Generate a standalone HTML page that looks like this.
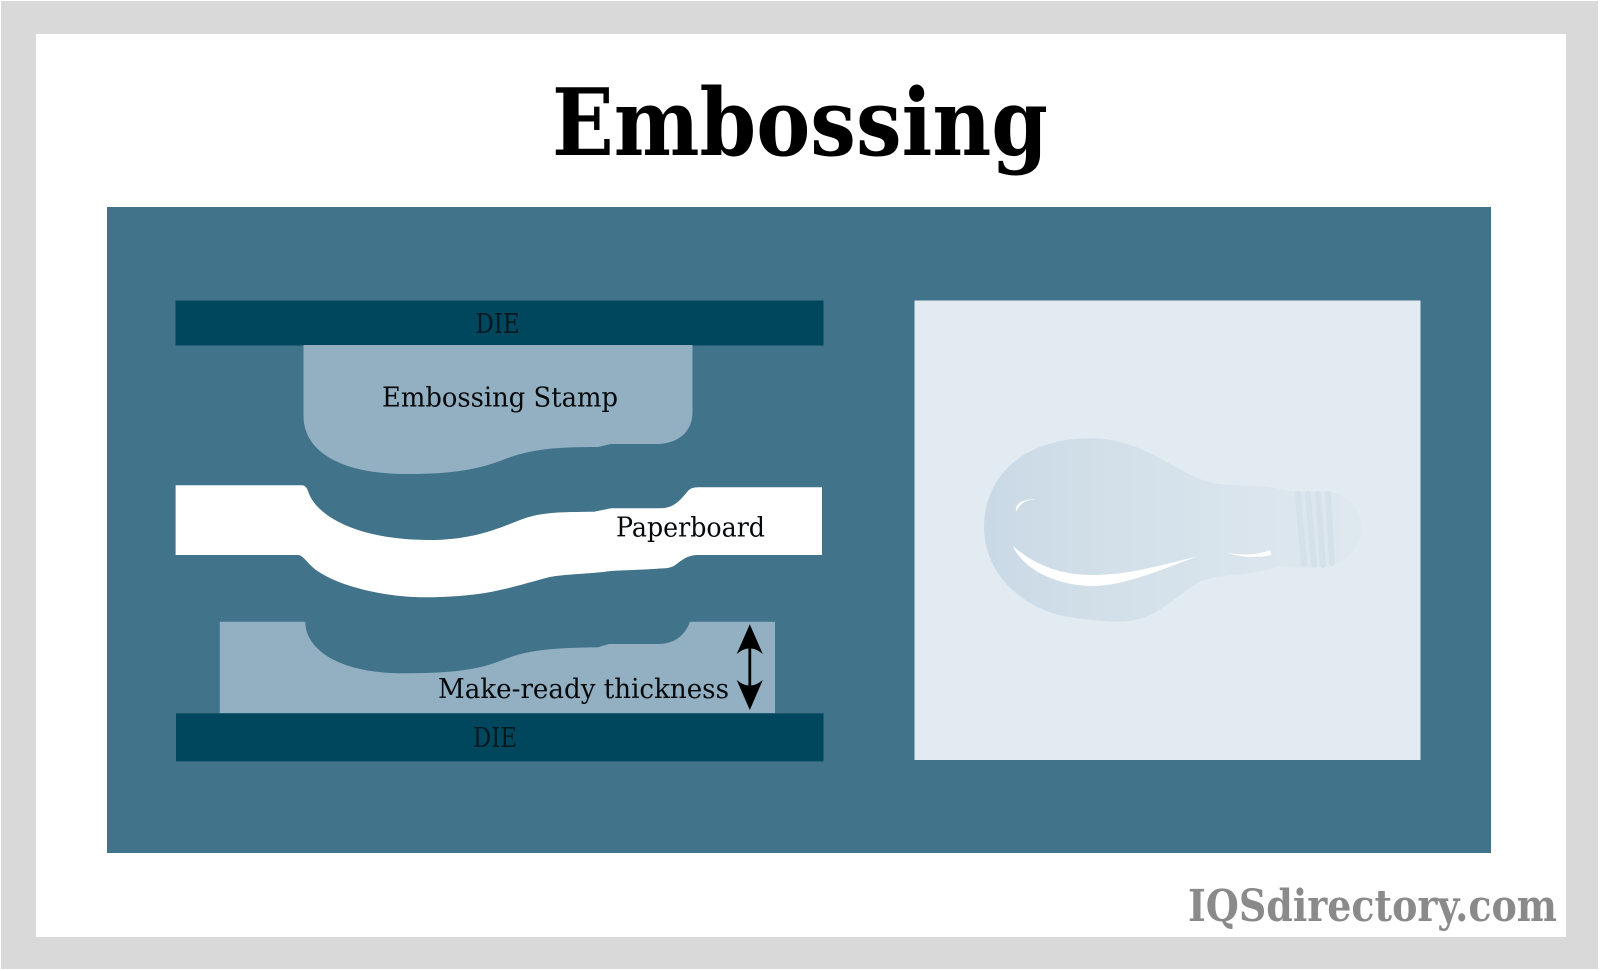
<!DOCTYPE html>
<html>
<head>
<meta charset="utf-8">
<title>Embossing</title>
<style>
html,body{margin:0;padding:0;background:#fff;width:1600px;height:971px;overflow:hidden}
svg{display:block}
text{font-family:"DejaVu Serif","Liberation Serif",serif}
</style>
</head>
<body>
<svg width="1600" height="971" viewBox="0 0 1600 971" xmlns="http://www.w3.org/2000/svg">
<defs>
<linearGradient id="b" x1="984" x2="1361" y1="0" y2="0" gradientUnits="userSpaceOnUse">
<stop offset="0" stop-color="#c9d9e5"/>
<stop offset="0.35" stop-color="#d3e0e9"/>
<stop offset="0.65" stop-color="#d9e4ec"/>
<stop offset="1" stop-color="#dfe8ef"/>
</linearGradient>
</defs>
<rect width="1600" height="971" fill="#fff"/>
<rect x="1" y="1" width="1597" height="968" fill="#d9d9d9"/>
<rect x="36" y="34" width="1530" height="903" fill="#fff"/>
<text x="552" y="155" font-size="93" font-weight="700" fill="#000" textLength="496" lengthAdjust="spacingAndGlyphs">Embossing</text>
<rect x="107" y="207" width="1384" height="646" fill="#41738a"/>

<rect x="175.5" y="300.5" width="648" height="45" fill="#00475e"/>
<path d="M303.5 345V416C303.5 448 335 474 407 474C455 474 480 469 505 459C530 450 550 447 598 447L611 444H656C678 444 692.5 432 692.5 412V345Z" fill="#92b0c2"/>
<path d="M175.6 485.3H302Q306 485.3 308 491C316 517 360 540 429 540C470 540 495 530 520 520C540 512 560 512 594 511.7L611 508.3H660C675 508 680 500 688 491Q691 487.3 698 487.3H822V555H698C688 555 682 560 678 563C672 568 668 568.3 660 568.5C640 570 625 570 611 571C590 574 565 574 550 577C530 582 515 587 500 590C480 595 450 597.3 425 597.3C385 597 340 587 316 570C308 564 303 555 298 555H175.6Z" fill="#fff"/>
<path d="M219.8 621.7H305.3C305.3 650 340 673.3 403 673.3C445 673.3 475 671 500 661C525 651 545 648 598 647.3L609 644H658C675 644 685 635 690 621.7H775V713.3H219.8Z" fill="#92b0c2"/>
<rect x="176" y="713.3" width="647.5" height="48" fill="#00475e"/>

<path d="M749.8 624.3L762.8 654Q756 648.5 751.2 648.5V685.5Q756 685.5 762.8 680L749.8 710L736.7 680Q743.5 685.5 748.4 685.5V648.5Q743.5 648.5 736.7 654Z" fill="#000"/>

<g fill="#05090c" font-size="27">
<text x="475.5" y="333" textLength="44" lengthAdjust="spacingAndGlyphs" fill="#061820">DIE</text>
<text x="382" y="406.5" textLength="236" lengthAdjust="spacingAndGlyphs">Embossing Stamp</text>
<text x="616" y="536.5" textLength="149" lengthAdjust="spacingAndGlyphs">Paperboard</text>
<text x="438" y="698" textLength="291" lengthAdjust="spacingAndGlyphs">Make-ready thickness</text>
<text x="473" y="747" textLength="44" lengthAdjust="spacingAndGlyphs" fill="#061820">DIE</text>
</g>

<rect x="914.5" y="300.5" width="506" height="459.5" fill="#e2ebf1"/>
<path d="M984 527C984 478 1022 438.3 1090 438.3C1120 438 1145 450 1165 461C1185 472 1200 482 1220 484C1240 486.5 1262 485 1280 489Q1287 491.5 1295 491.5L1330 491.5C1348 496 1361 510 1361 527C1361 545 1350 560 1330 566.7L1300 568L1280 566.7C1265 570 1250 574 1233 575C1210 577 1200 580 1187 590C1170 602 1155 617 1130 621C1110 623 1095 620 1075 618C1025 612 984 575 984 527Z" fill="url(#b)"/>
<g fill="none" stroke="#d5e1e9" stroke-width="6" stroke-linecap="round">
<path d="M1298 494L1304 564"/>
<path d="M1308 494L1314 565"/>
<path d="M1318 494L1323 565"/>
<path d="M1328 494L1332 563"/>
</g>
<g fill="#fff">
<path d="M1012.7 546C1025 572 1060 586 1093 586C1125 586 1165 568 1198.7 556C1165 564 1130 575 1093 575C1060 575 1035 565 1012.7 546Z"/>
<path d="M1016 511.7C1015 505 1020 499 1036 499.3C1026 500 1020 503 1016 511.7Z"/>
<path d="M1226.7 552.7C1240 555 1255 556 1270 550L1271.7 555C1258 558.5 1240 557 1226.7 552.7Z"/>
</g>

<text x="1188" y="921" font-size="44" font-weight="700" fill="#8a8a8a" textLength="369" lengthAdjust="spacingAndGlyphs">IQSdirectory.com</text>
</svg>
</body>
</html>
